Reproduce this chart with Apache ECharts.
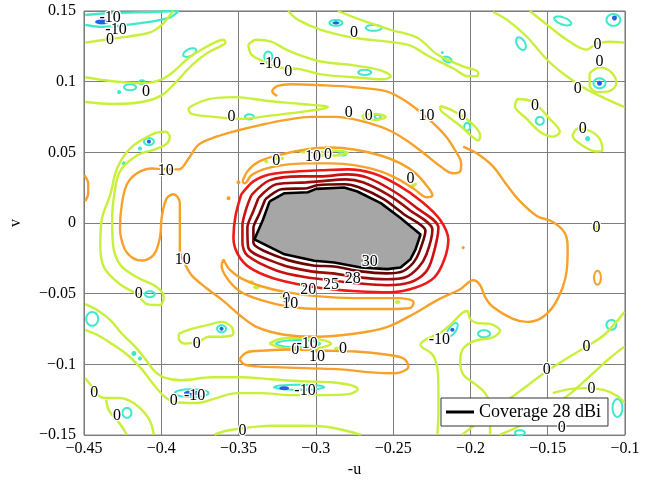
<!DOCTYPE html>
<html>
<head>
<meta charset="utf-8">
<script src="https://cdn.jsdelivr.net/npm/echarts@6/dist/echarts.min.js"></script>
<style>
  html, body { margin: 0; padding: 0; background: #fff; }
  #chart { width: 657px; height: 483px; }
</style>
</head>
<body>
<div id="chart"></div>
<script>
// Antenna gain pattern over the (-u, v) plane: gain contours in dBi plus the 28 dBi coverage region.

const xTicks = [-0.45, -0.4, -0.35, -0.3, -0.25, -0.2, -0.15, -0.1];
const yTicks = [-0.15, -0.1, -0.05, 0, 0.05, 0.1, 0.15];

// Coverage region outline
const coverage = [[-0.3299,0.0153],[-0.3203,0.0211],[-0.3052,0.0218],[-0.2999,0.0242],[-0.2817,0.0251],[-0.2731,0.0223],[-0.2580,0.0141],[-0.2452,0.0036],[-0.2323,-0.0081],[-0.2355,-0.0186],[-0.2388,-0.0256],[-0.2452,-0.0314],[-0.2538,-0.0326],[-0.2709,-0.0314],[-0.2881,-0.0279],[-0.3010,-0.0267],[-0.3203,-0.0221],[-0.3398,-0.0116],[-0.3342,0.0024]];

// Main beam rings
const ring30 = [[-0.3327,0.0169],[-0.3224,0.0239],[-0.3057,0.0246],[-0.2993,0.0267],[-0.2812,0.0274],[-0.2722,0.0253],[-0.2561,0.0169],[-0.2433,0.0064],[-0.2291,-0.0055],[-0.2330,-0.0202],[-0.2368,-0.0279],[-0.2439,-0.0342],[-0.2542,-0.0356],[-0.2709,-0.0342],[-0.2883,-0.0307],[-0.3018,-0.0300],[-0.3211,-0.0251],[-0.3404,-0.0139],[-0.3404,-0.0034],[-0.3366,0.0064]];
const ring28 = [[-0.3372,0.0176],[-0.3256,0.0274],[-0.3063,0.0288],[-0.2980,0.0295],[-0.2806,0.0309],[-0.2696,0.0288],[-0.2529,0.0197],[-0.2394,0.0092],[-0.2246,-0.0048],[-0.2285,-0.0223],[-0.2336,-0.0314],[-0.2420,-0.0384],[-0.2542,-0.0398],[-0.2722,-0.0384],[-0.2890,-0.0356],[-0.3031,-0.0342],[-0.3224,-0.0293],[-0.3437,-0.0174],[-0.3443,-0.0034],[-0.3404,0.0085]];
const ring25 = [[-0.3417,0.0197],[-0.3301,0.0302],[-0.3095,0.0330],[-0.2967,0.0330],[-0.2800,0.0344],[-0.2671,0.0323],[-0.2497,0.0225],[-0.2355,0.0113],[-0.2207,-0.0034],[-0.2246,-0.0244],[-0.2291,-0.0349],[-0.2388,-0.0419],[-0.2542,-0.0440],[-0.2735,-0.0426],[-0.2902,-0.0405],[-0.3063,-0.0384],[-0.3256,-0.0335],[-0.3443,-0.0230],[-0.3475,-0.0139],[-0.3475,-0.0020],[-0.3449,0.0106]];
const ring20 = [[-0.3482,0.0204],[-0.3404,0.0295],[-0.3301,0.0344],[-0.3108,0.0366],[-0.2967,0.0373],[-0.2793,0.0380],[-0.2632,0.0352],[-0.2465,0.0267],[-0.2310,0.0148],[-0.2195,0.0022],[-0.2143,-0.0118],[-0.2169,-0.0258],[-0.2233,-0.0384],[-0.2349,-0.0454],[-0.2516,-0.0489],[-0.2735,-0.0482],[-0.2902,-0.0468],[-0.3083,-0.0440],[-0.3276,-0.0391],[-0.3430,-0.0314],[-0.3507,-0.0216],[-0.3533,-0.0104],[-0.3520,0.0050]];

// 10 dBi contours
const gain10Outer = [[-0.3250,0.0898],[-0.3282,0.0933],[-0.3250,0.0968],[-0.3160,0.0982],[-0.2967,0.0975],[-0.2754,0.0961],[-0.2548,0.0933],[-0.2420,0.0863],[-0.2272,0.0737],[-0.2162,0.0618],[-0.2098,0.0513],[-0.2060,0.0422],[-0.2066,0.0366],[-0.2111,0.0352],[-0.2195,0.0401],[-0.2291,0.0485],[-0.2420,0.0590],[-0.2548,0.0667],[-0.2709,0.0723],[-0.2870,0.0751],[-0.3031,0.0751],[-0.3192,0.0730],[-0.3353,0.0695],[-0.3514,0.0653],[-0.3643,0.0611],[-0.3758,0.0555],[-0.3823,0.0457],[-0.3887,0.0380],[-0.3964,0.0380],[-0.4061,0.0386],[-0.4157,0.0352],[-0.4222,0.0274],[-0.4254,0.0141],[-0.4267,-0.0034],[-0.4241,-0.0174],[-0.4189,-0.0244],[-0.4125,-0.0265],[-0.4048,-0.0223],[-0.4009,-0.0104],[-0.3996,0.0050],[-0.3964,0.0176],[-0.3919,0.0204],[-0.3880,0.0141],[-0.3880,-0.0034],[-0.3880,-0.0195],[-0.3848,-0.0286],[-0.3803,-0.0370],[-0.3707,-0.0461],[-0.3597,-0.0552],[-0.3494,-0.0650],[-0.3385,-0.0734],[-0.3205,-0.0790],[-0.2999,-0.0804],[-0.2754,-0.0783],[-0.2536,-0.0734],[-0.2368,-0.0643],[-0.2214,-0.0545],[-0.2066,-0.0468],[-0.1982,-0.0405],[-0.1937,-0.0440],[-0.1905,-0.0524],[-0.1854,-0.0594],[-0.1725,-0.0678],[-0.1635,-0.0699],[-0.1551,-0.0678],[-0.1467,-0.0594],[-0.1403,-0.0454],[-0.1377,-0.0335],[-0.1371,-0.0174],[-0.1390,-0.0069],[-0.1467,0.0008],[-0.1570,0.0050],[-0.1680,0.0155],[-0.1763,0.0267],[-0.1854,0.0401],[-0.1957,0.0492],[-0.2047,0.0541]];
const gain10Upper = [[-0.3475,0.0295],[-0.3437,0.0373],[-0.3366,0.0436],[-0.3224,0.0485],[-0.3063,0.0520],[-0.2902,0.0534],[-0.2754,0.0520],[-0.2581,0.0478],[-0.2452,0.0422],[-0.2355,0.0352],[-0.2285,0.0267],[-0.2246,0.0197],[-0.2285,0.0183],[-0.2362,0.0239],[-0.2465,0.0309],[-0.2581,0.0366],[-0.2742,0.0408],[-0.2902,0.0422],[-0.3063,0.0422],[-0.3224,0.0408],[-0.3340,0.0380],[-0.3417,0.0338],[-0.3462,0.0281]];
const gain10Lower = [[-0.3597,-0.0258],[-0.3559,-0.0328],[-0.3482,-0.0391],[-0.3353,-0.0447],[-0.3192,-0.0489],[-0.2999,-0.0517],[-0.2754,-0.0531],[-0.2471,-0.0531],[-0.2368,-0.0559],[-0.2388,-0.0601],[-0.2536,-0.0608],[-0.2754,-0.0608],[-0.2967,-0.0608],[-0.3160,-0.0594],[-0.3353,-0.0545],[-0.3482,-0.0489],[-0.3565,-0.0405],[-0.3610,-0.0300]];
const gain10Low2 = [[-0.3494,-0.0965],[-0.3449,-0.0916],[-0.3321,-0.0902],[-0.3160,-0.0895],[-0.2967,-0.0902],[-0.2742,-0.0909],[-0.2548,-0.0930],[-0.2433,-0.0958],[-0.2401,-0.1014],[-0.2484,-0.1063],[-0.2645,-0.1056],[-0.2838,-0.1035],[-0.3031,-0.1028],[-0.3224,-0.1021],[-0.3385,-0.1014],[-0.3462,-0.1000]];
const gain10Edge = [[-0.4498,0.0338],[-0.4473,0.0281],[-0.4473,0.0211],[-0.4492,0.0155]];

// 0 dBi contours
const gain0A = [[-0.4492,0.1276],[-0.4318,0.1304],[-0.4080,0.1346],[-0.3996,0.1402],[-0.3932,0.1486],[-0.3920,0.1500]];
const gain0B = [[-0.4492,0.1031],[-0.4318,0.1003],[-0.4125,0.0989],[-0.3996,0.1017],[-0.3919,0.1073],[-0.3835,0.1157],[-0.3739,0.1227],[-0.3643,0.1283],[-0.3597,0.1297],[-0.3585,0.1276],[-0.3610,0.1255],[-0.3707,0.1199],[-0.3803,0.1115],[-0.3900,0.1003],[-0.3996,0.0905],[-0.4125,0.0856],[-0.4318,0.0842],[-0.4492,0.0856]];
const gain0C = [[-0.3964,0.0646],[-0.4048,0.0632],[-0.4202,0.0527],[-0.4286,0.0386],[-0.4331,0.0197],[-0.4383,0.0036],[-0.4395,-0.0153],[-0.4370,-0.0314],[-0.4267,-0.0433],[-0.4157,-0.0503],[-0.4093,-0.0573],[-0.4009,-0.0580],[-0.3984,-0.0524],[-0.4028,-0.0454],[-0.4157,-0.0384],[-0.4267,-0.0293],[-0.4312,-0.0153],[-0.4318,0.0036],[-0.4305,0.0197],[-0.4267,0.0366],[-0.4157,0.0478],[-0.4028,0.0527],[-0.3964,0.0562],[-0.3945,0.0611]];
const gain0D = [[-0.4492,-0.0573],[-0.4415,-0.0615],[-0.4331,-0.0685],[-0.4254,-0.0783],[-0.4170,-0.0874],[-0.4106,-0.0958],[-0.4048,-0.1042],[-0.3984,-0.1091],[-0.3868,-0.1112],[-0.3675,-0.1091],[-0.3482,-0.1091],[-0.3289,-0.1105],[-0.3096,-0.1119],[-0.2902,-0.1126],[-0.2774,-0.1147],[-0.2729,-0.1175],[-0.2787,-0.1210],[-0.2967,-0.1217],[-0.3160,-0.1217],[-0.3353,-0.1203],[-0.3514,-0.1203],[-0.3643,-0.1238],[-0.3771,-0.1273],[-0.3919,-0.1266],[-0.3996,-0.1210],[-0.4061,-0.1126],[-0.4125,-0.1035],[-0.4222,-0.0930],[-0.4331,-0.0846],[-0.4415,-0.0790],[-0.4492,-0.0755]];
const gain0E = [[-0.4492,-0.1098],[-0.4440,-0.1168],[-0.4402,-0.1224],[-0.4357,-0.1238],[-0.4273,-0.1238],[-0.4170,-0.1280],[-0.4080,-0.1385],[-0.4048,-0.1497]];
const gain0F = [[-0.4357,-0.1252],[-0.4337,-0.1329],[-0.4273,-0.1413],[-0.4222,-0.1497]];
const gain0G = [[-0.3887,-0.0783],[-0.3823,-0.0755],[-0.3694,-0.0720],[-0.3610,-0.0699],[-0.3546,-0.0734],[-0.3533,-0.0783],[-0.3610,-0.0804],[-0.3694,-0.0804],[-0.3758,-0.0839],[-0.3848,-0.0853],[-0.3887,-0.0818]];
const gain0H = [[-0.3655,-0.1497],[-0.3578,-0.1469],[-0.3449,-0.1448],[-0.3289,-0.1434],[-0.3096,-0.1434],[-0.2935,-0.1441],[-0.2806,-0.1469],[-0.2709,-0.1497]];
const gain0I = [[-0.2214,-0.1497],[-0.2207,-0.1329],[-0.2207,-0.1189],[-0.2214,-0.1028],[-0.2246,-0.0930],[-0.2323,-0.0860],[-0.2291,-0.0825],[-0.2195,-0.0776],[-0.2117,-0.0706],[-0.2053,-0.0636],[-0.2021,-0.0622],[-0.2002,-0.0678],[-0.1963,-0.0706],[-0.1873,-0.0713],[-0.1809,-0.0762],[-0.1860,-0.0811],[-0.1969,-0.0832],[-0.2047,-0.0888],[-0.2066,-0.0979],[-0.2047,-0.1070],[-0.1969,-0.1140],[-0.1905,-0.1203],[-0.1873,-0.1294],[-0.1873,-0.1497]];
const gain0J = [[-0.2053,-0.1497],[-0.1937,-0.1399],[-0.1809,-0.1294],[-0.1680,-0.1189],[-0.1506,-0.1049],[-0.1377,-0.0958],[-0.1249,-0.0874],[-0.1133,-0.0790],[-0.1056,-0.0699],[-0.1004,-0.0629]];
const gain0K = [[-0.1809,-0.1497],[-0.1680,-0.1434],[-0.1519,-0.1329],[-0.1358,-0.1210],[-0.1229,-0.1084],[-0.1101,-0.0958],[-0.1004,-0.0874]];
const gain0L = [[-0.1467,-0.1203],[-0.1358,-0.1175],[-0.1249,-0.1168],[-0.1133,-0.1182],[-0.1049,-0.1224],[-0.1004,-0.1273]];
const gain0M = [[-0.1699,0.0877],[-0.1596,0.0856],[-0.1487,0.0737],[-0.1422,0.0646],[-0.1467,0.0611],[-0.1551,0.0646],[-0.1635,0.0737],[-0.1712,0.0828]];
const gain0N = [[-0.1313,0.0667],[-0.1229,0.0653],[-0.1165,0.0597],[-0.1146,0.0513],[-0.1184,0.0506],[-0.1274,0.0548],[-0.1339,0.0618]];
const gain0O = [[-0.2195,0.0828],[-0.2111,0.0793],[-0.2002,0.0716],[-0.1937,0.0618],[-0.1950,0.0583],[-0.1989,0.0611],[-0.2066,0.0688],[-0.2150,0.0758],[-0.2195,0.0807]];
const gain0P = [[-0.2697,0.0765],[-0.2613,0.0772],[-0.2548,0.0751],[-0.2606,0.0730],[-0.2690,0.0737]];
const gain0Q = [[-0.3803,0.0828],[-0.3694,0.0877],[-0.3527,0.0891],[-0.3308,0.0863],[-0.3096,0.0842],[-0.2922,0.0821],[-0.3096,0.0786],[-0.3308,0.0758],[-0.3482,0.0737],[-0.3655,0.0751],[-0.3803,0.0772],[-0.3823,0.0807]];
const gain0R = [[-0.3437,0.1262],[-0.3385,0.1297],[-0.3289,0.1283],[-0.3192,0.1227],[-0.3096,0.1185],[-0.2967,0.1143],[-0.2754,0.1115],[-0.2581,0.1080],[-0.2516,0.1038],[-0.2568,0.1017],[-0.2754,0.1031],[-0.2967,0.1052],[-0.3096,0.1087],[-0.3237,0.1101],[-0.3340,0.1143],[-0.3417,0.1192]];
const gain0S = [[-0.2857,0.1500],[-0.2709,0.1437],[-0.2516,0.1367],[-0.2343,0.1311],[-0.2214,0.1192],[-0.2047,0.1108],[-0.1950,0.1066],[-0.1957,0.1038],[-0.2015,0.1038],[-0.2111,0.1094],[-0.2278,0.1185],[-0.2388,0.1255],[-0.2536,0.1283],[-0.2754,0.1311],[-0.2967,0.1367],[-0.3115,0.1437],[-0.3179,0.1500]];
const gain0T = [[-0.3301,-0.0853],[-0.3224,-0.0818],[-0.3096,-0.0811],[-0.2967,-0.0825],[-0.2902,-0.0853],[-0.2967,-0.0881],[-0.3096,-0.0888],[-0.3224,-0.0881]];
const gain0U = [[-0.2980,0.0499],[-0.2902,0.0513],[-0.2793,0.0499],[-0.2870,0.0478],[-0.2967,0.0478]];
const gain0V = [[-0.1854,0.1493],[-0.1763,0.1437],[-0.1635,0.1318],[-0.1506,0.1157],[-0.1377,0.1038],[-0.1249,0.0947],[-0.1120,0.0877],[-0.1004,0.0821]];
const gain0W = [[-0.1616,0.1500],[-0.1487,0.1388],[-0.1377,0.1297],[-0.1249,0.1227],[-0.1184,0.1269],[-0.1101,0.1283],[-0.1004,0.1276]];
const gain0X = [[-0.1229,0.1059],[-0.1165,0.1101],[-0.1088,0.1066],[-0.1056,0.0989],[-0.1101,0.0933],[-0.1178,0.0926],[-0.1229,0.0975]];

// -10 dBi contours
const gainM10A = [[-0.4492,0.1472],[-0.4318,0.1486],[-0.4061,0.1493],[-0.3900,0.1500]];
const gainM10B = [[-0.4492,0.1402],[-0.4383,0.1388],[-0.4125,0.1416],[-0.3951,0.1451],[-0.3887,0.1500]];

// Small closed islands: [u, v, half-width in u, half-height in v, tilt deg]
const islandsM10 = [[-0.3816,0.1206,0.0045,0.0025,25],[-0.4202,0.0961,0.0039,0.0021,0],[-0.4125,0.0996,0.0019,0.0014,0],[-0.4080,0.0576,0.0032,0.0025,0],[-0.3308,0.1178,0.0026,0.0035,0],[-0.3430,0.0751,0.0029,0.0018,0],[-0.2870,0.1416,0.0042,0.0021,0],[-0.2626,0.1381,0.0051,0.0021,0],[-0.2684,0.1066,0.0042,0.0018,0],[-0.2150,0.1157,0.0029,0.0018,-20],[-0.1673,0.1269,0.0026,0.0049,30],[-0.1403,0.1430,0.0058,0.0025,-20],[-0.1165,0.0989,0.0039,0.0035,0],[-0.1551,0.0723,0.0026,0.0028,0],[-0.2021,0.0681,0.0019,0.0028,0],[-0.2600,0.0751,0.0019,0.0014,0],[-0.2825,0.0492,0.0023,0.0014,0],[-0.4074,-0.0503,0.0032,0.0021,0],[-0.3610,-0.0748,0.0029,0.0025,0],[-0.4447,-0.0678,0.0039,0.0049,0],[-0.4222,-0.1343,0.0029,0.0035,0],[-0.3803,-0.1203,0.0109,0.0028,0],[-0.3115,-0.0853,0.0142,0.0025,0],[-0.3108,-0.1161,0.0161,0.0018,0],[-0.2117,-0.0755,0.0023,0.0056,-35],[-0.1912,-0.0783,0.0039,0.0025,0],[-0.1088,-0.0720,0.0032,0.0035,0],[-0.1049,-0.1308,0.0032,0.0063,0],[-0.1680,-0.1483,0.0032,0.0018,0],[-0.1075,0.1437,0.0045,0.0042,0]];
const specksM10 = [[-0.4273,0.0926,0.0013,0.0014,0],[-0.4138,0.0527,0.0013,0.0014,0],[-0.4241,0.0422,0.0013,0.0014,0],[-0.4177,-0.0923,0.0016,0.0018,0],[-0.4138,-0.0958,0.0013,0.0014,0],[-0.1242,0.0597,0.0016,0.0018,0],[-0.2182,0.1206,0.0010,0.0010,0]];
const specksM20 = [[-0.4383,0.1423,0.0045,0.0018,0],[-0.1068,0.1451,0.0016,0.0018,0],[-0.4080,0.0576,0.0013,0.0014,0],[-0.2870,0.1416,0.0023,0.0011,0],[-0.3803,-0.1203,0.0051,0.0018,0],[-0.3205,-0.1168,0.0032,0.0014,0],[-0.2117,-0.0755,0.0013,0.0014,0],[-0.3610,-0.0748,0.0013,0.0014,0],[-0.1165,0.0989,0.0016,0.0018,0]];
const specks0 = [[-0.3237,0.0457,0.0032,0.0014,0],[-0.3321,0.0436,0.0013,0.0013,0],[-0.3083,0.0506,0.0026,0.0014,0],[-0.2368,0.0267,0.0026,0.0014,30],[-0.3417,-0.0419,0.0019,0.0014,0],[-0.3385,-0.0454,0.0022,0.0014,0],[-0.3211,-0.0524,0.0019,0.0014,0],[-0.2471,-0.0559,0.0019,0.0014,0],[-0.2857,-0.0888,0.0026,0.0014,0],[-0.1184,-0.0034,0.0032,0.0018,0]];
const islands10 = [[-0.1178,-0.0387,0.0022,0.0050,0]];
const specks10 = [[-0.3501,0.0288,0.0013,0.0014,0],[-0.3565,0.0176,0.0013,0.0014,0],[-0.2047,-0.0174,0.0010,0.0011,0]];

// Contour labels: [u, v, text]
const contourLabels = [
  [-0.4331,0.1451,'-10'],[-0.4293,0.1367,'-10'],[-0.4331,0.1297,'0'],[-0.2754,0.1346,'0'],
  [-0.3295,0.1129,'-10'],[-0.3179,0.1073,'0'],[-0.4099,0.0926,'0'],[-0.1178,0.1262,'0'],
  [-0.1165,0.1143,'0'],[-0.1306,0.0947,'0'],[-0.3546,0.0751,'0'],[-0.1583,0.0828,'0'],
  [-0.2787,0.0779,'0'],[-0.2658,0.0758,'0'],[-0.2285,0.0758,'10'],[-0.2053,0.0758,'0'],
  [-0.1274,0.0667,'0'],[-0.3971,0.0373,'10'],[-0.3256,0.0443,'0'],[-0.3018,0.0471,'10'],
  [-0.2922,0.0485,'0'],[-0.2388,0.0316,'0'],[-0.3861,-0.0258,'10'],[-0.4145,-0.0503,'0'],
  [-0.2652,-0.0272,'30'],[-0.2761,-0.0391,'28'],[-0.2902,-0.0440,'25'],[-0.3050,-0.0475,'20'],
  [-0.3192,-0.0538,'0'],[-0.3166,-0.0573,'10'],[-0.2201,-0.0825,'-10'],[-0.3134,-0.0895,'0'],
  [-0.3057,-0.0853,'-10'],[-0.2993,-0.0944,'10'],[-0.2825,-0.0888,'0'],[-0.3771,-0.0853,'0'],
  [-0.1506,-0.1035,'0'],[-0.1249,-0.0874,'0'],[-0.1216,-0.1175,'0'],[-0.1410,-0.1448,'0'],
  [-0.4434,-0.1203,'0'],[-0.3919,-0.1259,'0'],[-0.3784,-0.1224,'-10'],[-0.3070,-0.1189,'-10'],
  [-0.4286,-0.1364,'0'],[-0.3475,-0.1469,'0'],[-0.1184,-0.0034,'0']
];

const FONT = '"Liberation Serif", "Times New Roman", serif';
const levelColor = {
  '-20': '#1e63e6', '-10': '#3ee8c9', '0': '#c8f03a', '10': '#f7a12a',
  '20': '#ee1a1a', '25': '#c81212', '28': '#990c0c', '30': '#6c0404'
};

function contour(level, pts, closed, width, smooth) {
  return {
    type: 'line',
    data: closed ? pts.concat([pts[0]]) : pts,
    smooth: smooth == null ? 0.35 : smooth,
    symbol: 'none',
    silent: true,
    z: 3,
    lineStyle: { color: levelColor[level], width: width || 2.4 }
  };
}

// Ellipse islands, scaled through the axes
function islands(list, color, filled) {
  return {
    type: 'custom',
    data: list,
    silent: true,
    z: 3,
    renderItem: function (params, api) {
      const u = api.value(0), v = api.value(1), ru = api.value(2), rv = api.value(3), tilt = api.value(4) || 0;
      const c = api.coord([u, v]);
      const rx = Math.abs(api.coord([u + ru, v])[0] - c[0]);
      const ry = Math.abs(api.coord([u, v + rv])[1] - c[1]);
      const a = -tilt * Math.PI / 180;
      const pts = [];
      for (let k = 0; k < 28; k++) {
        const t = k / 28 * Math.PI * 2;
        const ex = rx * Math.cos(t), ey = ry * Math.sin(t);
        pts.push([c[0] + ex * Math.cos(a) - ey * Math.sin(a), c[1] + ex * Math.sin(a) + ey * Math.cos(a)]);
      }
      return {
        type: 'polygon',
        shape: { points: pts },
        style: filled ? { fill: color } : { fill: 'none', stroke: color, lineWidth: 2 }
      };
    }
  };
}

const series = [];

// Coverage fill
series.push({
  type: 'custom',
  data: [coverage[0]],
  silent: true,
  z: 2,
  renderItem: function (params, api) {
    return {
      type: 'polygon',
      shape: { points: coverage.map(p => api.coord(p)) },
      style: { fill: '#a6a6a6' }
    };
  }
});

[gainM10A, gainM10B].forEach(p => series.push(contour('-10', p, false)));
[gain0A, gain0B, gain0D, gain0E, gain0F, gain0H, gain0I, gain0J, gain0K, gain0L, gain0S, gain0V, gain0W].forEach(p => series.push(contour('0', p, false)));
[gain0C, gain0G, gain0M, gain0N, gain0O, gain0P, gain0Q, gain0R, gain0T, gain0U, gain0X].forEach(p => series.push(contour('0', p, true)));
[gain10Outer, gain10Edge].forEach(p => series.push(contour('10', p, false)));
[gain10Upper, gain10Lower, gain10Low2].forEach(p => series.push(contour('10', p, true)));
series.push(contour('20', ring20, true, 2.6, 0.3));
series.push(contour('25', ring25, true, 2.6, 0.3));
series.push(contour('28', ring28, true, 2.6, 0.3));
series.push(contour('30', ring30, true, 2.6, 0.25));

series.push(islands(islandsM10, levelColor['-10'], false));
series.push(islands(specksM10, levelColor['-10'], true));
series.push(islands(specksM20, levelColor['-20'], true));
series.push(islands(specks0, levelColor['0'], true));
series.push(islands(islands10, levelColor['10'], false));
series.push(islands(specks10, levelColor['10'], true));

// Coverage outline (legend entry)
series.push({
  name: 'Coverage 28 dBi',
  type: 'line',
  data: coverage.concat([coverage[0]]),
  symbol: 'none',
  silent: true,
  z: 4,
  itemStyle: { color: '#000' },
  lineStyle: { color: '#000', width: 2.6 }
});

// Contour labels
series.push({
  type: 'custom',
  data: contourLabels.map(l => [l[0], l[1]]),
  silent: true,
  z: 5,
  renderItem: function (params, api) {
    const lab = contourLabels[params.dataIndex];
    const p = api.coord([lab[0], lab[1]]);
    return {
      type: 'text',
      x: p[0], y: p[1],
      style: {
        text: lab[2], font: '16px ' + FONT, fill: '#000',
        align: 'center', verticalAlign: 'middle',
        stroke: '#fff', lineWidth: 2.5
      }
    };
  }
});

const fmt = v => {
  const r = Math.round(v * 100) / 100;
  return (r < 0 ? '\u2212' : '') + Math.abs(r);
};

const chart = echarts.init(document.getElementById('chart'), null, { renderer: 'canvas' });
chart.setOption({
  animation: false,
  backgroundColor: '#fff',
  grid: { left: 82, top: 11, width: 543, height: 428, show: true, borderColor: '#6e6e6e', borderWidth: 1, backgroundColor: '#fff' },
  legend: {
    data: [{ name: 'Coverage 28 dBi', icon: 'rect' }],
    left: 441, top: 398,
    itemWidth: 28, itemHeight: 3,
    padding: [5, 7, 5, 5],
    backgroundColor: '#fff', borderColor: '#333', borderWidth: 1,
    selectedMode: false,
    textStyle: { fontFamily: FONT, fontSize: 18, color: '#000' }
  },
  xAxis: {
    type: 'value', min: xTicks[0], max: xTicks[xTicks.length - 1], interval: 0.05,
    name: '-u', nameLocation: 'middle', nameGap: 23,
    nameTextStyle: { fontFamily: FONT, fontSize: 16, color: '#000' },
    axisLine: { show: false }, axisTick: { show: false },
    axisLabel: { formatter: fmt, fontFamily: FONT, fontSize: 16, color: '#000', margin: 6 },
    splitLine: { show: true, lineStyle: { color: '#7d7d7d', width: 1 } }
  },
  yAxis: {
    type: 'value', min: yTicks[0], max: yTicks[yTicks.length - 1], interval: 0.05,
    name: 'v', nameLocation: 'middle', nameGap: 60, nameRotate: 90,
    nameTextStyle: { fontFamily: FONT, fontSize: 16, color: '#000' },
    axisLine: { show: false }, axisTick: { show: false },
    axisLabel: { formatter: fmt, fontFamily: FONT, fontSize: 16, color: '#000', margin: 8 },
    splitLine: { show: true, lineStyle: { color: '#7d7d7d', width: 1 } }
  },
  series: series
});
</script>
</body>
</html>
